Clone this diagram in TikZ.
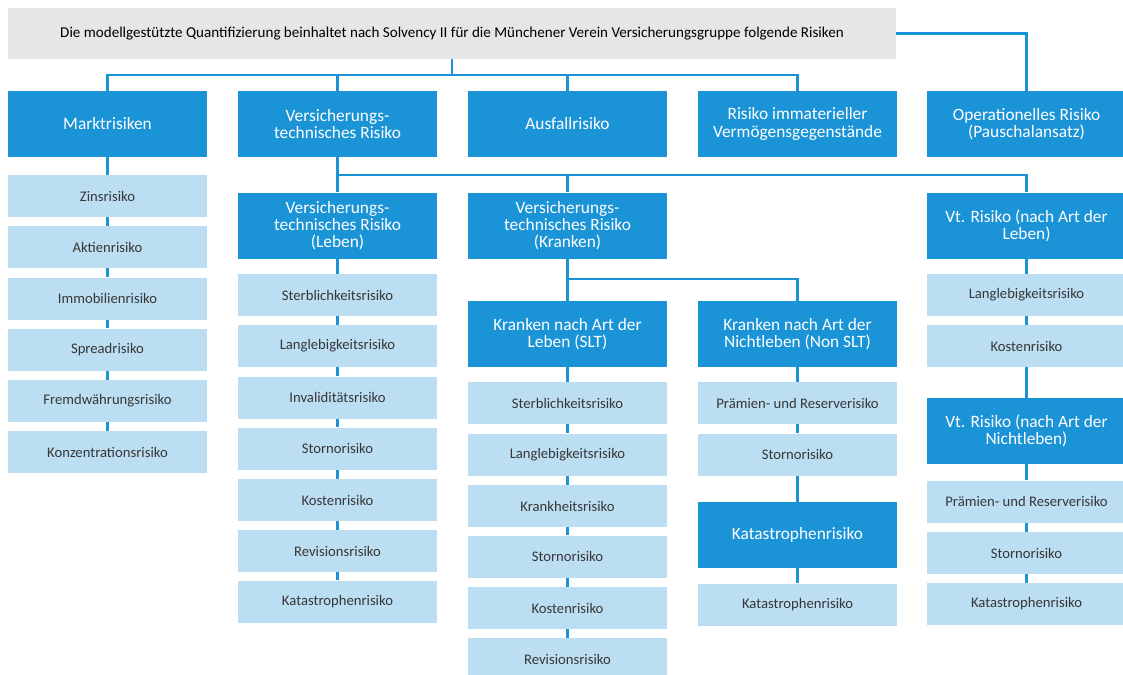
\documentclass[tikz,border=0pt]{standalone}
\usepackage{fontspec}
\setmainfont{Carlito}
\definecolor{dunkel}{RGB}{27,147,215}
\definecolor{hell}{RGB}{187,222,242}
\definecolor{grau}{RGB}{230,230,230}
\definecolor{schrift}{RGB}{55,55,55}
\tikzset{
  kopf/.style={fill=grau,minimum width=666pt,minimum height=38pt,inner sep=0pt,
    text=black,font=\fontsize{11.3}{13}\selectfont},
  haupt/.style={fill=dunkel,minimum width=149pt,minimum height=49.5pt,inner sep=0pt,
    text=white,align=center,font=\fontsize{13}{12.8}\selectfont},
  unter/.style={fill=hell,minimum width=149pt,minimum height=31.5pt,inner sep=0pt,
    text=schrift,font=\fontsize{11}{13}\selectfont},
  link/.style={dunkel,line width=2.2pt}
}
\begin{document}
\begin{tikzpicture}
  [x=0.75pt,y=-0.75pt]
\clip (0,0) rectangle (1123,674);
\coordinate (bus1) at (0,75);
\coordinate (bus2) at (0,175);
\coordinate (bus3) at (0,279);

\node (top)[kopf] at (452,33.5) {Die modellgestützte Quantifizierung beinhaltet nach Solvency II für die Münchener Verein Versicherungsgruppe folgende Risiken};

% erste Ebene
\node (mr)[haupt] at (107.5,124) {Marktrisiken};
\node (vt)[haupt] at (337.5,124) {Versicherungs-\\technisches Risiko};
\node (af)[haupt] at (567.5,124) {Ausfallrisiko};
\node (im)[haupt] at (797.5,124) {Risiko immaterieller\\Vermögensgegenstände};
\node (op)[haupt] at (1026.5,124) {Operationelles Risiko\\(Pauschalansatz)};

% Marktrisiken
\node (m1)[unter] at (107.5,196) {Zinsrisiko};
\node (m2)[unter] at (107.5,247) {Aktienrisiko};
\node (m3)[unter] at (107.5,298.5) {Immobilienrisiko};
\node (m4)[unter] at (107.5,349.5) {Spreadrisiko};
\node (m5)[unter] at (107.5,401) {Fremdwährungsrisiko};
\node (m6)[unter] at (107.5,452) {Konzentrationsrisiko};

% zweite Ebene
\node (vl)[haupt] at (337.5,225.5) {Versicherungs-\\technisches Risiko\\(Leben)};
\node (vk)[haupt] at (567.5,225.5) {Versicherungs-\\technisches Risiko\\(Kranken)};
\node (vtl)[haupt] at (1026.5,225.5) {Vt. Risiko (nach Art der\\Leben)};

% Leben
\node (l1)[unter] at (337.5,295) {Sterblichkeitsrisiko};
\node (l2)[unter] at (337.5,346) {Langlebigkeitsrisiko};
\node (l3)[unter] at (337.5,397.5) {Invaliditätsrisiko};
\node (l4)[unter] at (337.5,448.5) {Stornorisiko};
\node (l5)[unter] at (337.5,500) {Kostenrisiko};
\node (l6)[unter] at (337.5,551) {Revisionsrisiko};
\node (l7)[unter] at (337.5,601.5) {Katastrophenrisiko};

% Kranken
\node (ks)[haupt] at (567.5,334) {Kranken nach Art der\\Leben (SLT)};
\node (kn)[haupt] at (797.5,334) {Kranken nach Art der\\Nichtleben (Non SLT)};
\node (s1)[unter] at (567.5,403) {Sterblichkeitsrisiko};
\node (s2)[unter] at (567.5,454.5) {Langlebigkeitsrisiko};
\node (s3)[unter] at (567.5,506) {Krankheitsrisiko};
\node (s4)[unter] at (567.5,556.5) {Stornorisiko};
\node (s5)[unter] at (567.5,608) {Kostenrisiko};
\node (s6)[unter] at (567.5,659) {Revisionsrisiko};
\node (n1)[unter] at (797.5,403) {Prämien- und Reserverisiko};
\node (n2)[unter] at (797.5,454.5) {Stornorisiko};
\node (kat)[haupt] at (797.5,535) {Katastrophenrisiko};
\node (n3)[unter] at (797.5,604.5) {Katastrophenrisiko};

% Vt. Risiko
\node (a1)[unter] at (1026.5,295) {Langlebigkeitsrisiko};
\node (a2)[unter] at (1026.5,346) {Kostenrisiko};
\node (vtn)[haupt] at (1026.5,431) {Vt. Risiko (nach Art der\\Nichtleben)};
\node (b1)[unter] at (1026.5,501.5) {Prämien- und Reserverisiko};
\node (b2)[unter] at (1026.5,553) {Stornorisiko};
\node (b3)[unter] at (1026.5,604) {Katastrophenrisiko};

\foreach \n in {mr,vt,af,im}
  \draw[link] (top.south) |- (bus1 -| \n.north) -- (\n.north);
\draw[link] (top.east) -| (op.north);
\foreach \n in {vl,vk,vtl}
  \draw[link] (vt.south) |- (bus2 -| \n.north) -- (\n.north);
\foreach \n in {ks,kn}
  \draw[link] (vk.south) |- (bus3 -| \n.north) -- (\n.north);

\foreach \from/\to in {mr/m1,m1/m2,m2/m3,m3/m4,m4/m5,m5/m6,
    vl/l1,l1/l2,l2/l3,l3/l4,l4/l5,l5/l6,l6/l7,
    ks/s1,s1/s2,s2/s3,s3/s4,s4/s5,s5/s6,
    kn/n1,n1/n2,n2/kat,kat/n3,
    vtl/a1,a1/a2,a2/vtn,vtn/b1,b1/b2,b2/b3}
  \draw[link] (\from) -- (\to);
\end{tikzpicture}
\end{document}
